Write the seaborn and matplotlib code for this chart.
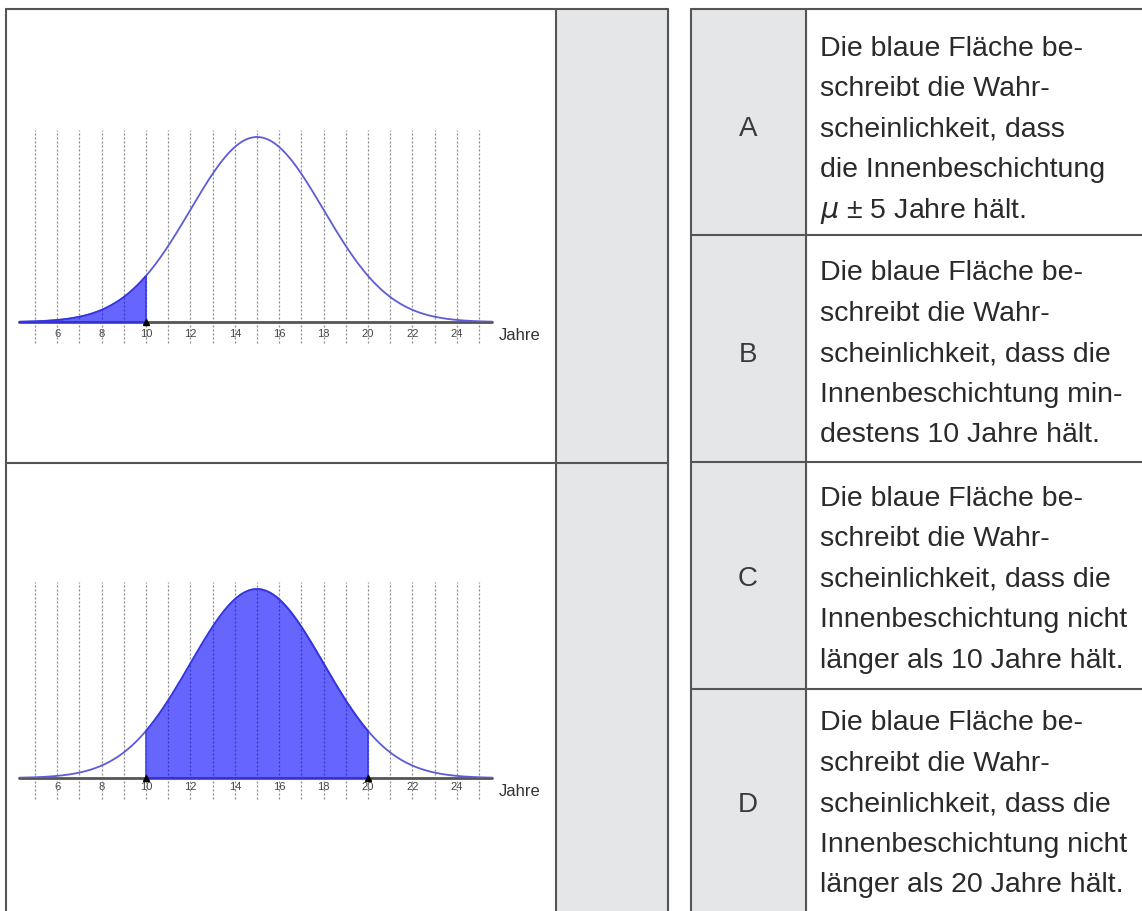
import numpy as np
import seaborn as sns
import matplotlib.pyplot as plt
from matplotlib.patches import Rectangle

# distribution of the coating lifetime (years)
mu = 15
sigma = 3
x_range = [4.3, 25.6]
tick_years = [6, 8, 10, 12, 14, 16, 18, 20, 22, 24]
grid_years = list(range(5, 26))
shade_1 = [4.3, 10]      # upper chart: blue area left of 10
shade_2 = [10, 20]       # lower chart: blue area between 10 and 20
marks_1 = [10]
marks_2 = [10, 20]

letters = ['A', 'B', 'C', 'D']
texts = [
    ['Die blaue Fläche be-', 'schreibt die Wahr-', 'scheinlichkeit, dass',
     'die Innenbeschichtung', r'$\mu$ ± 5 Jahre hält.'],
    ['Die blaue Fläche be-', 'schreibt die Wahr-', 'scheinlichkeit, dass die',
     'Innenbeschichtung min-', 'destens 10 Jahre hält.'],
    ['Die blaue Fläche be-', 'schreibt die Wahr-', 'scheinlichkeit, dass die',
     'Innenbeschichtung nicht', 'länger als 10 Jahre hält.'],
    ['Die blaue Fläche be-', 'schreibt die Wahr-', 'scheinlichkeit, dass die',
     'Innenbeschichtung nicht', 'länger als 20 Jahre hält.'],
]

sns.set_style('white')
plt.rcParams['font.family'] = ['Liberation Sans', 'DejaVu Sans']

W, H = 1142, 911
fig = plt.figure(figsize=(W / 100, H / 100), dpi=100)

# ---- table frame (pixel coordinates) ----
tab = fig.add_axes([0, 0, 1, 1])
tab.set_xlim(0, W)
tab.set_ylim(H, 0)
tab.axis('off')

grey = '#e5e6e8'
lc = '#555555'
tab.add_patch(Rectangle((556, 9), 112, H, color=grey, zorder=0))
tab.add_patch(Rectangle((691, 9), 115, H, color=grey, zorder=0))

# left table
tab.plot([6, 668], [9, 9], color=lc, lw=1.5)
tab.plot([6, 668], [463, 463], color=lc, lw=1.5)
for xv in [6, 556, 668]:
    tab.plot([xv, xv], [9, H], color=lc, lw=1.5)
# right table
tab.plot([691, W], [9, 9], color=lc, lw=1.5)
for yv in [235, 462, 689]:
    tab.plot([691, W], [yv, yv], color=lc, lw=1.5)
for xv in [691, 806]:
    tab.plot([xv, xv], [9, H], color=lc, lw=1.5)

letter_y = [127, 352, 577, 802]
pitch = 40.5
for k, (let, lines) in enumerate(zip(letters, texts)):
    cy = letter_y[k]
    tab.text(748, cy + 9.5, let, fontsize=20, color='#3a3a3a',
             ha='center', va='baseline')
    n = len(lines)
    for i, line in enumerate(lines):
        y = cy + (i - (n - 1) / 2) * pitch
        tab.text(820, y + 9.5, line, fontsize=20.5, color='#2a2a2a',
                 ha='left', va='baseline')

# ---- the two density charts ----
px_per_year = 22.2
x10_px = 146
xlim = (4.0, 26.0)


def chart(axis_px, peak_px, shade, marks, pad):
    top_px = axis_px - peak_px - 20
    left = x10_px + (xlim[0] - 10) * px_per_year
    width = (xlim[1] - xlim[0]) * px_per_year
    ax = fig.add_axes([left / W, 1 - axis_px / H, width / W,
                       (axis_px - top_px) / H])
    ax.set_xlim(*xlim)
    ax.set_ylim(0, (axis_px - top_px) / peak_px)
    ax.patch.set_alpha(0)
    for s in ax.spines.values():
        s.set_visible(False)

    xs = np.linspace(x_range[0], x_range[1], 400)
    ys = np.exp(-0.5 * ((xs - mu) / sigma) ** 2)   # scaled so peak = 1

    g_top = (peak_px + 7) / peak_px
    g_bot = -21 / peak_px
    ax.vlines(grid_years, g_bot, g_top, colors='#8a8a8a', lw=0.9,
              linestyles=(0, (1.6, 1.6)), clip_on=False, zorder=1)

    ax.plot(x_range, [0, 0], color='#555555', lw=2, clip_on=False, zorder=2)
    sns.lineplot(x=xs, y=ys, ax=ax, color='#5c5cd8', lw=1.3, zorder=3)
    m = (xs >= shade[0]) & (xs <= shade[1])
    xf = np.concatenate([[shade[0]], xs[m], [shade[1]]])
    yf = np.exp(-0.5 * ((xf - mu) / sigma) ** 2)
    ax.fill_between(xf, 0, yf, color='#0000ff', alpha=0.6, lw=0, zorder=4)
    ax.plot(np.concatenate([[shade[0]], xf, [shade[1]], [shade[0]]]),
            np.concatenate([[0], yf, [0], [0]]),
            color='#3535e0', lw=1.1, clip_on=False, zorder=5)
    ax.plot(marks, [0] * len(marks), ls='none', marker='^', ms=4,
            color='black', clip_on=False, zorder=6)

    ax.set_xticks(tick_years)
    ax.set_xticklabels([str(t) for t in tick_years], fontsize=8,
                       color='#444444')
    ax.set_yticks([])
    ax.tick_params(axis='x', length=0, pad=pad)
    ax.text(25.9, -13 / peak_px, 'Jahre', fontsize=12, color='#333333',
            ha='left', va='center', clip_on=False)
    ax.set_xlabel('')
    return ax


chart(322, 185, shade_1, marks_1, 5)
chart(778, 189, shade_2, marks_2, 3)

fig.savefig('out.png', dpi=100)
